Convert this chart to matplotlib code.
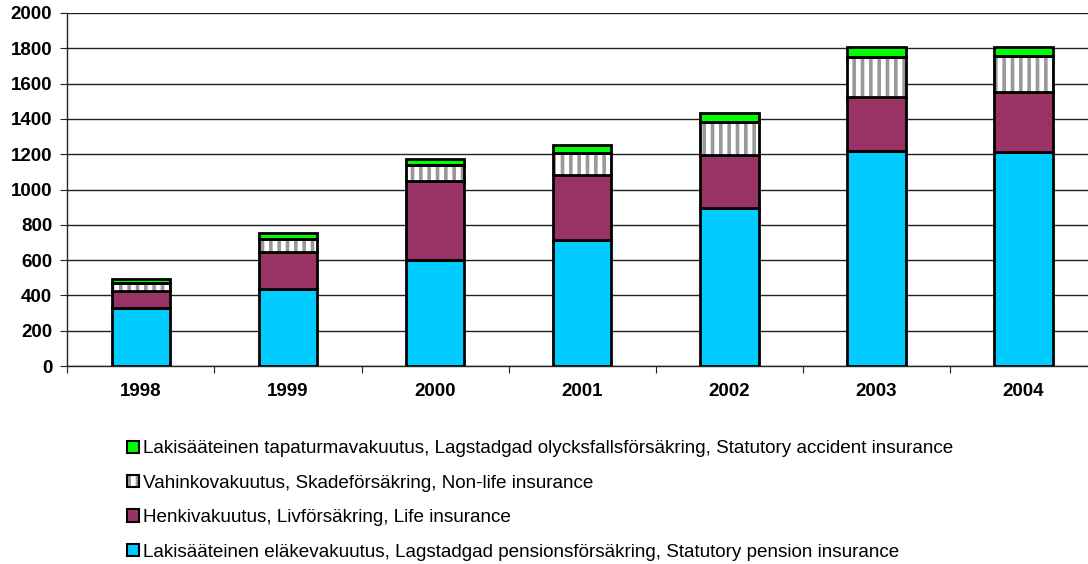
import numpy as np
import matplotlib
matplotlib.use("Agg")
import matplotlib.pyplot as plt
from matplotlib.patches import Patch

plt.rcParams['font.family'] = ['Liberation Sans', 'DejaVu Sans']
plt.rcParams['hatch.linewidth'] = 2.6

# data
years = ['1998', '1999', '2000', '2001', '2002', '2003', '2004']
pension = [330, 438, 599, 712, 893, 1218, 1212]
life = [95, 209, 451, 372, 300, 306, 338]
nonlife = [47, 71, 87, 121, 189, 226, 206]
accident = [19, 37, 36, 45, 49, 57, 53]

labels = ['Lakisääteinen tapaturmavakuutus, Lagstadgad olycksfallsförsäkring, Statutory accident insurance',
          'Vahinkovakuutus, Skadeförsäkring, Non-life insurance',
          'Henkivakuutus, Livförsäkring, Life insurance',
          'Lakisääteinen eläkevakuutus, Lagstadgad pensionsförsäkring, Statutory pension insurance']

c_pension = '#00CCFF'
c_life = '#993366'
c_accident = '#00FF00'
c_stripe = '#999999'

fig = plt.figure(figsize=(10.88, 5.64), dpi=100)
ax = fig.add_axes([0.062, 0.351, 0.946, 0.626])

x = np.arange(len(years))
w = 0.40
pension = np.array(pension)
life = np.array(life)
nonlife = np.array(nonlife)
accident = np.array(accident)

b1 = pension
b2 = b1 + life
b3 = b2 + nonlife

lw = 2.0
ax.bar(x, pension, w, color=c_pension, edgecolor='black', linewidth=lw, zorder=3)
ax.bar(x, life, w, bottom=b1, color=c_life, edgecolor='black', linewidth=lw, zorder=3)
# stripes first, then black outline on top
ax.bar(x, nonlife, w, bottom=b2, color='white', edgecolor=c_stripe, hatch='||', linewidth=0, zorder=3)
ax.bar(x, nonlife, w, bottom=b2, fill=False, edgecolor='black', linewidth=lw, zorder=4)
ax.bar(x, accident, w, bottom=b3, color=c_accident, edgecolor='black', linewidth=lw, zorder=3)

ax.set_xlim(-0.5, len(years) - 0.5)
ax.set_ylim(0, 2000)
ax.set_yticks(np.arange(0, 2001, 200))
ax.yaxis.grid(True, color='#222222', linewidth=1.0, zorder=0)
ax.set_axisbelow(True)

ax.set_xticks(np.arange(-0.5, len(years), 1.0))
ax.set_xticklabels([])
ax.set_xticks(x, minor=True)
ax.set_xticklabels(years, minor=True)
ax.tick_params(axis='x', which='minor', length=0, pad=12)
ax.tick_params(axis='x', which='major', length=5, direction='out', color='#222222')
ax.tick_params(axis='y', length=5, direction='out', pad=6, color='#222222')
for t in ax.get_xticklabels(minor=True) + ax.get_yticklabels():
    t.set_fontweight('bold')
    t.set_fontsize(13.5)

for s in ['top', 'right']:
    ax.spines[s].set_visible(False)
for s in ['left', 'bottom']:
    ax.spines[s].set_color('#222222')
    ax.spines[s].set_linewidth(1.0)

h_acc = Patch(facecolor=c_accident, edgecolor='black', linewidth=1.5)
h_non = (Patch(facecolor='white', edgecolor=c_stripe, hatch='||', linewidth=0),
         Patch(fill=False, edgecolor='black', linewidth=1.5))
h_life = Patch(facecolor=c_life, edgecolor='black', linewidth=1.5)
h_pen = Patch(facecolor=c_pension, edgecolor='black', linewidth=1.5)

fig.legend([h_acc, h_non, h_life, h_pen], labels, loc='upper left',
           bbox_to_anchor=(0.117, 0.219), frameon=False, fontsize=13.6,
           handlelength=0.62, handleheight=0.62, handletextpad=0.2,
           labelspacing=0.92, borderaxespad=0, borderpad=0)

fig.savefig('out.png', dpi=100)
